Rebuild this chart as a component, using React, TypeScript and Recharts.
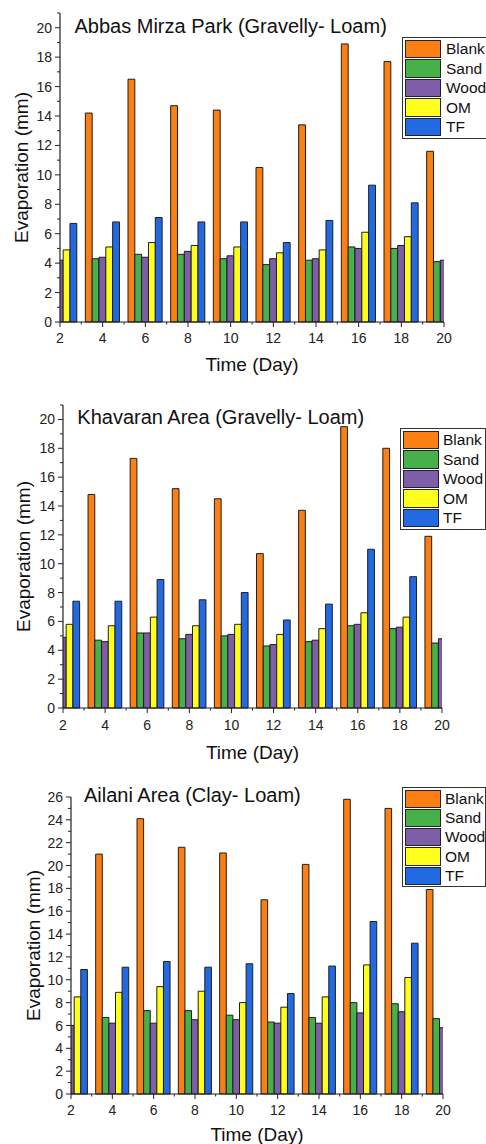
import React from 'react';
import { BarChart, Bar, XAxis, YAxis, Legend, Label } from 'recharts';

const FONT = '"Liberation Sans", Arial, Helvetica, sans-serif';

const days = [2, 4, 6, 8, 10, 12, 14, 16, 18, 20];
const seriesNames = ['Blank', 'Sand', 'Wood', 'OM', 'TF'];
const seriesColors = ['#fb7f12', '#47b048', '#7e5ea8', '#ffff1e', '#2369e2'];
const xTicks = [2, 3, 4, 5, 6, 7, 8, 9, 10, 11, 12, 13, 14, 15, 16, 17, 18, 19, 20];
const yTicks21 = [0, 1, 2, 3, 4, 5, 6, 7, 8, 9, 10, 11, 12, 13, 14, 15, 16, 17, 18, 19, 20, 21];
const yTicks26 = [0, 1, 2, 3, 4, 5, 6, 7, 8, 9, 10, 11, 12, 13, 14, 15, 16, 17, 18, 19, 20, 21, 22, 23, 24, 25, 26];

// Abbas Mirza Park (Gravelly- Loam)
const abbasBlank = [null, 14.2, 16.5, 14.7, 14.4, 10.5, 13.4, 18.9, 17.7, 11.6];
const abbasSand = [null, 4.3, 4.6, 4.6, 4.3, 3.9, 4.2, 5.1, 5.0, 4.1];
const abbasWood = [4.2, 4.4, 4.4, 4.8, 4.5, 4.3, 4.3, 5.0, 5.2, 4.2];
const abbasOM = [4.9, 5.1, 5.4, 5.2, 5.1, 4.7, 4.9, 6.1, 5.8, null];
const abbasTF = [6.7, 6.8, 7.1, 6.8, 6.8, 5.4, 6.9, 9.3, 8.1, null];

// Khavaran Area (Gravelly- Loam)
const khavaranBlank = [null, 14.8, 17.3, 15.2, 14.5, 10.7, 13.7, 19.5, 18.0, 11.9];
const khavaranSand = [null, 4.7, 5.2, 4.8, 5.0, 4.3, 4.6, 5.7, 5.5, 4.5];
const khavaranWood = [4.9, 4.6, 5.2, 5.1, 5.1, 4.4, 4.7, 5.8, 5.6, 4.8];
const khavaranOM = [5.8, 5.7, 6.3, 5.7, 5.8, 5.1, 5.5, 6.6, 6.3, null];
const khavaranTF = [7.4, 7.4, 8.9, 7.5, 8.0, 6.1, 7.2, 11.0, 9.1, null];

// Ailani Area (Clay- Loam)
const ailaniBlank = [null, 21.0, 24.1, 21.6, 21.1, 17.0, 20.1, 25.8, 25.0, 17.9];
const ailaniSand = [null, 6.7, 7.3, 7.3, 6.9, 6.3, 6.7, 8.0, 7.9, 6.6];
const ailaniWood = [6.0, 6.2, 6.2, 6.5, 6.5, 6.2, 6.2, 7.1, 7.2, 5.8];
const ailaniOM = [8.5, 8.9, 9.4, 9.0, 8.0, 7.6, 8.5, 11.3, 10.2, null];
const ailaniTF = [10.9, 11.1, 11.6, 11.1, 11.4, 8.8, 11.2, 15.1, 13.2, null];

type Num = number | null;
const buildRows = (series: Num[][]) =>
  days.map((d, i) => {
    const row: Record<string, Num> = { day: d };
    seriesNames.forEach((n, k) => {
      row[n] = series[k][i];
    });
    return row;
  });

interface PanelProps {
  top: number;
  height: number;
  title: string;
  titleX: number;
  titleY: number;
  rows: Record<string, Num>[];
  yMax: number;
  yTicks: number[];
  marginTop: number;
  marginRight: number;
  yAxisWidth: number;
  xAxisHeight: number;
  yLabelX: number;
  xLabelY: number;
  xTickOffset: number;
  legendLeft: number;
  legendTop: number;
  legendWidth: number;
  legendRow: number;
  swatchLeft: number;
  textGap: number;
}

const Panel = (p: PanelProps) => {
  const W = 486;
  const plotW = W - p.yAxisWidth - p.marginRight;
  const unit = plotW / 18;
  const barSize = (unit * 2 * 0.8) / 5;
  const plotTop = p.marginTop;
  const plotBottom = p.height - p.xAxisHeight;
  const plotCenterY = (plotTop + plotBottom) / 2;
  const plotCenterX = p.yAxisWidth + plotW / 2;

  const XTick = (props: any) => {
    const { x, y, payload } = props;
    const v = payload.value as number;
    const major = v % 2 === 0;
    return (
      <g>
        <line x1={x} y1={y} x2={x} y2={y + (major ? 5 : 2.5)} stroke="#222" strokeWidth={1} />
        {major && (
          <text x={x} y={y + p.xTickOffset} textAnchor="middle" fontSize={14} fill="#222" fontFamily={FONT}>
            {v}
          </text>
        )}
      </g>
    );
  };

  const YTick = (props: any) => {
    const { x, y, payload } = props;
    const v = payload.value as number;
    const major = v % 2 === 0;
    return (
      <g>
        <line x1={x} y1={y} x2={x - (major ? 5 : 3)} y2={y} stroke="#222" strokeWidth={1} />
        {major && (
          <text x={x - 8} y={y} dy="0.36em" textAnchor="end" fontSize={14} fill="#222" fontFamily={FONT}>
            {v}
          </text>
        )}
      </g>
    );
  };

  const renderLegend = (props: any) => {
    const raw = (props && props.payload) || [];
    const payload = [...raw].sort(
      (a: any, b: any) => seriesNames.indexOf(a.value) - seriesNames.indexOf(b.value)
    );
    return (
      <div
        style={{
          border: '1px solid #333',
          background: '#fff',
          boxSizing: 'border-box',
          width: p.legendWidth,
          paddingTop: 1,
          paddingBottom: 1,
          fontFamily: FONT,
        }}
      >
        {payload.map((e: any, i: number) => (
          <div key={i} style={{ display: 'flex', alignItems: 'center', height: p.legendRow }}>
            <div
              style={{
                marginLeft: p.swatchLeft,
                width: 36,
                height: p.legendRow - 1,
                background: e.color || seriesColors[seriesNames.indexOf(e.value)],
                border: '1px solid #222',
                boxSizing: 'border-box',
                flex: 'none',
              }}
            />
            <span style={{ marginLeft: p.textGap, fontSize: 15.5, lineHeight: 1, color: '#111', whiteSpace: 'nowrap' }}>
              {e.value}
            </span>
          </div>
        ))}
      </div>
    );
  };

  return (
    <div style={{ position: 'absolute', left: 0, top: p.top, width: W, height: p.height }}>
      <BarChart
        width={W}
        height={p.height}
        data={p.rows}
        margin={{ top: p.marginTop, right: p.marginRight, bottom: 0, left: 0 }}
        barGap={0}
        barSize={barSize}
      >
        <XAxis
          dataKey="day"
          type="number"
          domain={[2, 20]}
          allowDataOverflow
          ticks={xTicks}
          interval={0}
          tickSize={0}
          tickMargin={0}
          tickLine={false}
          tick={XTick}
          height={p.xAxisHeight}
          axisLine={{ stroke: '#222', strokeWidth: 1.2 }}
        >
          <Label
            content={() => (
              <text x={plotCenterX} y={p.xLabelY} textAnchor="middle" fontSize={19} fill="#111" fontFamily={FONT}>
                Time (Day)
              </text>
            )}
          />
        </XAxis>
        <YAxis
          type="number"
          domain={[0, p.yMax]}
          ticks={p.yTicks}
          interval={0}
          tickSize={0}
          tickMargin={0}
          tickLine={false}
          tick={YTick}
          width={p.yAxisWidth}
          axisLine={{ stroke: '#222', strokeWidth: 1.2 }}
        >
          <Label
            content={() => (
              <text
                x={p.yLabelX}
                y={plotCenterY}
                dy="0.36em"
                transform={`rotate(-90, ${p.yLabelX}, ${plotCenterY})`}
                textAnchor="middle"
                fontSize={19}
                fill="#111"
                fontFamily={FONT}
              >
                Evaporation (mm)
              </text>
            )}
          />
        </YAxis>
        <Legend
          layout="vertical"
          align="center"
          verticalAlign="middle"
          content={renderLegend}
          wrapperStyle={{ left: p.legendLeft, top: p.legendTop, width: p.legendWidth, height: 'auto' }}
        />
        {seriesNames.map((n, k) => (
          <Bar
            key={n}
            dataKey={n}
            name={n}
            fill={seriesColors[k]}
            stroke="#1e1e1e"
            strokeWidth={1}
            isAnimationActive={false}
          />
        ))}
      </BarChart>
      <svg
        width={W}
        height={p.height}
        style={{ position: 'absolute', left: 0, top: 0, pointerEvents: 'none', overflow: 'visible' }}
      >
        <text x={p.titleX} y={p.titleY} fontSize={20} fill="#111" fontFamily={FONT}>
          {p.title}
        </text>
      </svg>
    </div>
  );
};

const abbasRows = buildRows([abbasBlank, abbasSand, abbasWood, abbasOM, abbasTF]);
const khavaranRows = buildRows([khavaranBlank, khavaranSand, khavaranWood, khavaranOM, khavaranTF]);
const ailaniRows = buildRows([ailaniBlank, ailaniSand, ailaniWood, ailaniOM, ailaniTF]);

export default function App() {
  return (
    <div
      style={{
        position: 'absolute',
        left: 0,
        top: 0,
        width: 486,
        height: 1144,
        overflow: 'hidden',
        background: '#fff',
        fontFamily: FONT,
      }}
    >
      <Panel
        top={0}
        height={380}
        title="Abbas Mirza Park (Gravelly- Loam)"
        titleX={74.5}
        titleY={33.3}
        rows={abbasRows}
        yMax={21}
        yTicks={yTicks21}
        marginTop={13}
        marginRight={42}
        yAxisWidth={60}
        xAxisHeight={58}
        yLabelX={21}
        xLabelY={371}
        xTickOffset={20.7}
        legendLeft={402}
        legendTop={37}
        legendWidth={100}
        legendRow={19.6}
        swatchLeft={1.5}
        textGap={5.5}
      />
      <Panel
        top={380}
        height={390}
        title="Khavaran Area (Gravelly- Loam)"
        titleX={77.3}
        titleY={44.3}
        rows={khavaranRows}
        yMax={21}
        yTicks={yTicks21}
        marginTop={25}
        marginRight={44}
        yAxisWidth={63}
        xAxisHeight={62}
        yLabelX={23.5}
        xLabelY={379}
        xTickOffset={21.5}
        legendLeft={400}
        legendTop={48}
        legendWidth={85.5}
        legendRow={19.5}
        swatchLeft={1.5}
        textGap={4.5}
      />
      <Panel
        top={760}
        height={384}
        title="Ailani Area (Clay- Loam)"
        titleX={84}
        titleY={41.7}
        rows={ailaniRows}
        yMax={26}
        yTicks={yTicks26}
        marginTop={37}
        marginRight={43}
        yAxisWidth={71}
        xAxisHeight={50}
        yLabelX={33}
        xLabelY={381}
        xTickOffset={20.7}
        legendLeft={402}
        legendTop={27}
        legendWidth={83.5}
        legendRow={19.3}
        swatchLeft={1.5}
        textGap={4.5}
      />
    </div>
  );
}
